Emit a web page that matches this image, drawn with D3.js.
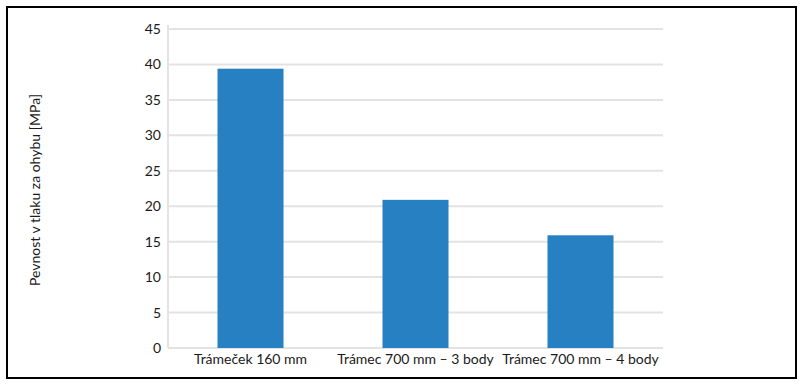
<!DOCTYPE html>
<html>
<head>
<meta charset="utf-8">
<script src="https://cdn.jsdelivr.net/npm/d3@7"></script>
<style>
body{margin:0;background:#fff;}
svg{display:block;font-family:Lato,sans-serif;}
</style>
</head>
<body>
<script>
var categories = ['Trámeček 160 mm', 'Trámec 700 mm – 3 body', 'Trámec 700 mm – 4 body'];
var values = [39.4, 20.9, 15.9];
var yTicks = [0, 5, 10, 15, 20, 25, 30, 35, 40, 45];
var yTitle = 'Pevnost v tlaku za ohybu [MPa]';

var W = 803, H = 385;
var svg = d3.select('body').append('svg').attr('width', W).attr('height', H);

// frame
svg.append('rect').attr('x', 7).attr('y', 7).attr('width', 789).attr('height', 371)
    .attr('fill', 'none').attr('stroke', '#000').attr('stroke-width', 2);

var pLeft = 168, pRight = 663, pTop = 29, pBottom = 348;
var x = d3.scaleBand().domain(categories).range([pLeft, pRight]).paddingInner(0.6).paddingOuter(0.3);
var y = d3.scaleLinear().domain([0, 45]).range([pBottom, pTop]);

var g = svg.append('g');

// gridlines
g.selectAll('line.grid').data(yTicks).enter().append('line')
    .attr('x1', pLeft).attr('x2', pRight)
    .attr('y1', function(d){ return y(d); }).attr('y2', function(d){ return y(d); })
    .attr('stroke', '#e3e3e3').attr('stroke-width', 2);

// y axis line
g.append('line').attr('x1', pLeft).attr('x2', pLeft).attr('y1', pTop - 4).attr('y2', pBottom)
    .attr('stroke', '#e3e3e3').attr('stroke-width', 2);

// bars
g.selectAll('rect.bar').data(values).enter().append('rect')
    .attr('x', function(d, i){ return x(categories[i]); })
    .attr('width', x.bandwidth())
    .attr('y', function(d){ return y(d); })
    .attr('height', function(d){ return y(0) - y(d); })
    .attr('fill', '#2780c1');

// y ticks
var yAxis = d3.axisLeft(y).tickValues(yTicks).tickSize(0).tickPadding(7);
var ya = svg.append('g').attr('transform', 'translate(' + pLeft + ',0)').call(yAxis);
ya.select('.domain').remove();
ya.selectAll('text').attr('font-size', 14).attr('fill', '#1a1a1a')
    .attr('font-family', 'Lato,sans-serif');

// x labels
var xAxis = d3.axisBottom(x).tickSize(0).tickPadding(6);
var xa = svg.append('g').attr('transform', 'translate(0,' + pBottom + ')').call(xAxis);
xa.select('.domain').remove();
xa.selectAll('text').attr('font-size', 14).attr('fill', '#1a1a1a')
    .attr('font-family', 'Lato,sans-serif');

// y title
svg.append('text').attr('transform', 'translate(40,' + 190 + ') rotate(-90)')
    .attr('text-anchor', 'middle').attr('font-size', 14).attr('fill', '#1a1a1a')
    .text(yTitle);
</script>
</body>
</html>
